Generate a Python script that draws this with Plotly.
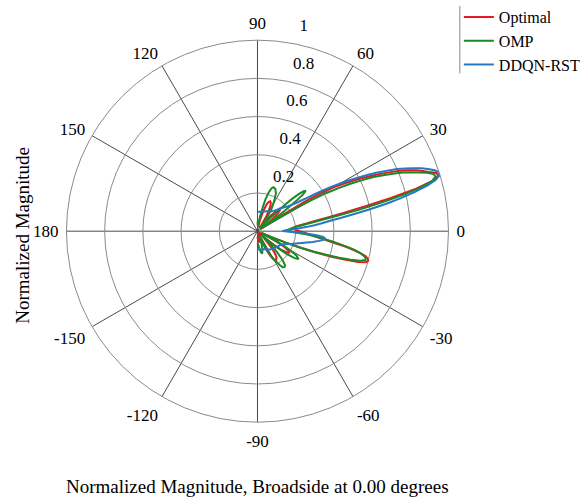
import plotly.graph_objects as go

# ---------------- data ----------------
opt_theta = [-90, -87, -84, -81, -78, -75, -72, -70, -68, -66, -64, -62, -60, -57, -54, -52, -50, -48, -46, -44,
             -42, -40, -38, -36, -34, -32, -30, -28, -26, -24, -23, -22, -21, -20, -19, -18, -17, -16, -15, -14,
             -13, -12, -11, -10, -9, -8, -7, -6, -5, -4, -3, -2, -1, 0, 1, 2, 3, 4, 5, 6,
             7, 8, 9, 10, 11, 12, 13, 14, 15, 16, 17, 18, 19, 20, 21, 22, 23, 24, 25, 26,
             27, 28, 29, 30, 31, 32, 33, 34, 35, 37, 39, 41, 43, 45, 47, 49, 51, 53, 55, 57,
             59, 61, 63, 65, 67, 69, 71, 73, 75, 77, 79, 81, 84, 87, 90]
opt_mag = [0.03, 0.04, 0.05, 0.06, 0.055, 0.04, 0.02, 0.01, 0.04, 0.08, 0.12, 0.15, 0.17, 0.18, 0.17, 0.15, 0.12, 0.08, 0.04, 0.01,
           0.06, 0.12, 0.16, 0.19, 0.20, 0.19, 0.16, 0.11, 0.05, 0.02, 0.08, 0.16, 0.25, 0.33, 0.41, 0.48, 0.55, 0.59, 0.60, 0.595,
           0.58, 0.55, 0.51, 0.47, 0.42, 0.38, 0.35, 0.32, 0.30, 0.28, 0.265, 0.25, 0.235, 0.22, 0.21, 0.20, 0.195, 0.19, 0.19, 0.195,
           0.205, 0.225, 0.26, 0.30, 0.37, 0.46, 0.58, 0.72, 0.86, 0.95, 0.99, 0.985, 0.95, 0.92, 0.89, 0.85, 0.81, 0.76, 0.71, 0.66,
           0.61, 0.56, 0.51, 0.46, 0.40, 0.29, 0.16, 0.06, 0.02, 0.05, 0.10, 0.14, 0.16, 0.16, 0.14, 0.11, 0.07, 0.03, 0.02, 0.05,
           0.09, 0.12, 0.15, 0.165, 0.17, 0.165, 0.15, 0.12, 0.09, 0.06, 0.03, 0.02, 0.03, 0.035, 0.04]

omp_theta = [-90, -87, -84, -81, -78, -75, -72, -69, -67, -65, -63, -60, -57, -55, -53, -51, -49, -47, -45, -43,
             -42, -41, -40, -38, -36, -34, -32, -30, -28, -26, -25, -24, -23, -22, -21, -20, -19, -18, -17, -16,
             -15, -14, -13, -12, -11, -10, -9, -8, -7, -6, -5, -4, -3, -2, -1, 0, 1, 2, 3, 4,
             5, 6, 7, 8, 9, 10, 11, 12, 13, 14, 15, 16, 17, 18, 19, 20, 21, 22, 23, 24,
             25, 26, 27, 28, 29, 30, 31, 32, 33, 34, 35, 36, 37, 38, 39, 40, 41, 42, 43, 44,
             45, 46, 47, 48, 50, 52, 55, 58, 61, 64, 67, 70, 72, 74, 76, 78, 80, 82, 84, 86, 88, 90]
omp_mag = [0.06, 0.07, 0.09, 0.11, 0.12, 0.10, 0.07, 0.03, 0.03, 0.07, 0.12, 0.17, 0.21, 0.23, 0.235, 0.23, 0.20, 0.15, 0.09, 0.04,
           0.03, 0.07, 0.12, 0.19, 0.24, 0.26, 0.24, 0.19, 0.12, 0.05, 0.03, 0.03, 0.09, 0.16, 0.23, 0.31, 0.38, 0.45, 0.51, 0.56,
           0.585, 0.585, 0.57, 0.55, 0.52, 0.48, 0.44, 0.40, 0.36, 0.33, 0.30, 0.26, 0.23, 0.20, 0.18, 0.165, 0.155, 0.155, 0.16, 0.17,
           0.18, 0.195, 0.215, 0.245, 0.29, 0.35, 0.44, 0.55, 0.67, 0.79, 0.89, 0.95, 0.975, 0.97, 0.94, 0.90, 0.86, 0.82, 0.77, 0.72,
           0.67, 0.61, 0.55, 0.48, 0.41, 0.32, 0.23, 0.14, 0.07, 0.03, 0.06, 0.12, 0.19, 0.26, 0.31, 0.33, 0.32, 0.29, 0.25, 0.20,
           0.15, 0.10, 0.06, 0.03, 0.02, 0.05, 0.09, 0.14, 0.18, 0.22, 0.24, 0.245, 0.235, 0.21, 0.17, 0.12, 0.08, 0.05, 0.03, 0.03, 0.04, 0.05]

ddqn_theta = [-90, -85, -80, -75, -70, -65, -60, -55, -50, -45, -40, -35, -30, -27, -24, -21, -18, -15, -13, -11,
              -9, -8, -7, -6, -5, -4, -3, -2, -1, 0, 1, 2, 3, 4, 5, 6, 7, 8, 9, 10,
              11, 12, 13, 14, 15, 16, 17, 18, 19, 20, 21, 22, 23, 24, 25, 26, 27, 28, 29, 30,
              31, 32, 33, 34, 35, 36, 38, 40, 42, 45, 48, 52, 56, 60, 65, 70, 75, 80, 85, 90]
ddqn_mag = [0.095, 0.096, 0.097, 0.099, 0.10, 0.105, 0.11, 0.117, 0.12, 0.125, 0.13, 0.135, 0.142, 0.15, 0.165, 0.186, 0.21, 0.24, 0.265, 0.295,
            0.325, 0.34, 0.35, 0.355, 0.345, 0.31, 0.27, 0.22, 0.17, 0.135, 0.135, 0.15, 0.18, 0.22, 0.26, 0.30, 0.34, 0.38, 0.44, 0.51,
            0.60, 0.69, 0.77, 0.85, 0.92, 0.97, 0.995, 1.0, 0.98, 0.95, 0.92, 0.88, 0.84, 0.80, 0.75, 0.70, 0.65, 0.60, 0.55, 0.50,
            0.45, 0.40, 0.35, 0.31, 0.28, 0.25, 0.22, 0.20, 0.185, 0.17, 0.15, 0.135, 0.125, 0.12, 0.115, 0.11, 0.105, 0.103, 0.102, 0.10]

series_names = ["Optimal", "OMP", "DDQN-RST"]
series_colors = ["#e8191e", "#1b8a26", "#2678c2"]

angle_ticks = [0, 30, 60, 90, 120, 150, 180, 210, 240, 270, 300, 330]
angle_labels = ["0", "30", "60", "90", "120", "150", "180", "-150", "-120", "-90", "-60", "-30"]
radial_ticks = [0.2, 0.4, 0.6, 0.8, 1.0]
radial_labels = ["0.2", "0.4", "0.6", "0.8", "1"]

W, H = 586, 504
FONT = "Liberation Serif"

fig = go.Figure()
for th, r, name, col in zip([opt_theta, omp_theta, ddqn_theta],
                            [opt_mag, omp_mag, ddqn_mag],
                            series_names, series_colors):
    fig.add_trace(go.Scatterpolar(theta=th, r=r, mode="lines", name=name,
                                  line=dict(color=col, width=2)))

# radial labels sit just above their ring (two empty trailing lines lift the label)
radial_text = [t + "<br> <br> " for t in radial_labels]

cx, cy, rad = 261.5, 229, 194
fig.update_layout(
    width=W, height=H,
    margin=dict(l=0, r=0, t=0, b=0),
    paper_bgcolor="white",
    font=dict(family=FONT, color="black", size=17),
    polar=dict(
        domain=dict(x=[(cx - rad) / W, (cx + rad) / W],
                    y=[(H - cy - rad) / H, (H - cy + rad) / H]),
        bgcolor="white",
        angularaxis=dict(direction="counterclockwise", rotation=0,
                         tickmode="array", tickvals=angle_ticks, ticktext=angle_labels,
                         showgrid=True, gridcolor="#4a4a4a", gridwidth=1,
                         showline=True, linecolor="#8a8a8a", linewidth=1,
                         ticks="outside", ticklen=4, tickcolor="rgba(0,0,0,0)",
                         tickfont=dict(family=FONT, size=17, color="black")),
        radialaxis=dict(range=[0, 1], tickmode="array", tickvals=radial_ticks, ticktext=radial_text,
                        angle=80, side="clockwise", tickangle=80,
                        showline=False, ticks="",
                        showgrid=True, gridcolor="#8a8a8a", gridwidth=1,
                        tickfont=dict(family=FONT, size=17, color="black")),
    ),
    showlegend=True,
    legend=dict(x=466 / W, y=1.008, xanchor="left", yanchor="top",
                font=dict(family=FONT, size=16, color="black"),
                bgcolor="rgba(0,0,0,0)", borderwidth=0, itemwidth=30,
                tracegroupgap=0),
    shapes=[dict(type="line", xref="paper", yref="paper",
                 x0=467 / W, x1=467 / W, y0=1 - 2 / H, y1=1 - 70 / H,
                 line=dict(color="#8a8a8a", width=1))],
    annotations=[
        dict(text="Normalized Magnitude, Broadside at 0.00 degrees", xref="paper", yref="paper",
             x=cx / W, y=1 - 486 / H, xanchor="center", yanchor="middle", showarrow=False,
             font=dict(family=FONT, size=19, color="black")),
        dict(text="Normalized Magnitude", xref="paper", yref="paper",
             x=23 / W, y=1 - 233 / H, xanchor="center", yanchor="middle", showarrow=False,
             textangle=-90, font=dict(family=FONT, size=19, color="black")),
    ],
)

fig.write_html("out.html")
